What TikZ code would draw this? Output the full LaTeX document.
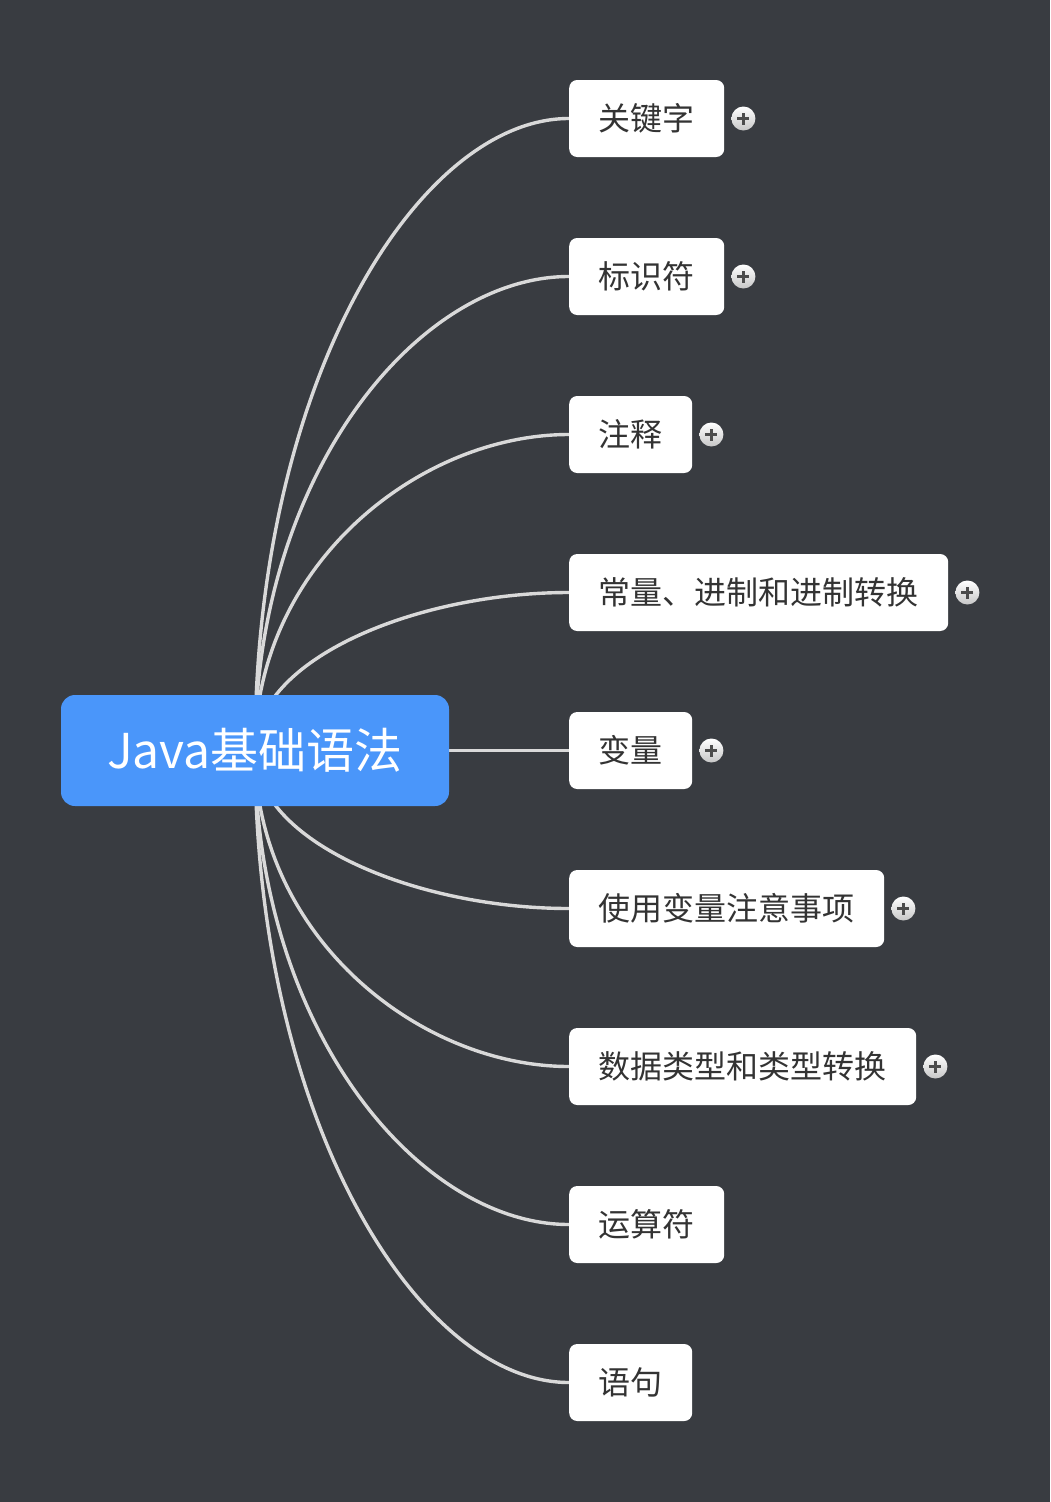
\documentclass[tikz,border=0pt]{standalone}
\usepackage{fontspec}
\newfontfamily\cjk{Noto Sans CJK SC}
\usetikzlibrary{calc}
\definecolor{bgc}{HTML}{393C41}
\definecolor{rootc}{HTML}{4A96FA}
\definecolor{linec}{HTML}{D9D9D9}
\definecolor{txtc}{HTML}{333333}
\pgfdeclarelayer{bglayer}
\pgfdeclarelayer{lines}
\pgfsetlayers{bglayer,lines,main}
\begin{document}
\begin{tikzpicture}[x=1pt,y=-1pt,
  rootbox/.style={draw=none,fill=rootc,rounded corners=14pt,minimum width=388pt,minimum height=111pt,
     text=white,font=\cjk\fontsize{48}{52}\selectfont,inner sep=0pt},
  childbox/.style={draw=none,fill=white,rounded corners=8pt,minimum height=77pt,inner xsep=29.5pt,inner ysep=0pt,
     text=txtc,font=\cjk\fontsize{32}{36}\selectfont,anchor=west},
  plusicon/.style={circle,minimum size=24pt,inner sep=0pt,top color=white,bottom color=black!22,
     path picture={\draw[line width=2.6pt,black!70] ([xshift=-6pt]path picture bounding box.center) -- ([xshift=6pt]path picture bounding box.center);
                   \draw[line width=2.6pt,black!70] ([yshift=-6pt]path picture bounding box.center) -- ([yshift=6pt]path picture bounding box.center);}},
  conn/.style={draw=linec,line width=3.4pt}
]
\begin{pgfonlayer}{bglayer}
\fill[bgc] (0,0) rectangle (1050,1502);
\end{pgfonlayer}
\useasboundingbox (0,0) rectangle (1050,1502);

\node[rootbox] (root) at (255,750.5) {Java基础语法};

\node[childbox] (c1) at (569,118.5) {关键字};
\node[childbox] (c2) at (569,276.5) {标识符};
\node[childbox] (c3) at (569,434.5) {注释};
\node[childbox] (c4) at (569,592.5) {常量、进制和进制转换};
\node[childbox] (c5) at (569,750.5) {变量};
\node[childbox] (c6) at (569,908.5) {使用变量注意事项};
\node[childbox] (c7) at (569,1066.5) {数据类型和类型转换};
\node[childbox] (c8) at (569,1224.5) {运算符};
\node[childbox] (c9) at (569,1382.5) {语句};

\foreach \k in {c1,c2,c3,c4,c5,c6,c7}{
  \node[plusicon] (p\k) at ($(\k.east)+(19,0)$) {};
}

\begin{pgfonlayer}{lines}
\foreach \k in {c1,c2,c3,c4,c6,c7,c8,c9}{
  \draw[conn] (root.center) .. controls ($(root.center)!0.585!(root.center |- \k.west)$)
     and ($(\k.west)!0.48!(root.center |- \k.west)$) .. (\k.west);
}
\draw[conn] (root.center) -- (c5.west);
\end{pgfonlayer}
\end{tikzpicture}
\end{document}
